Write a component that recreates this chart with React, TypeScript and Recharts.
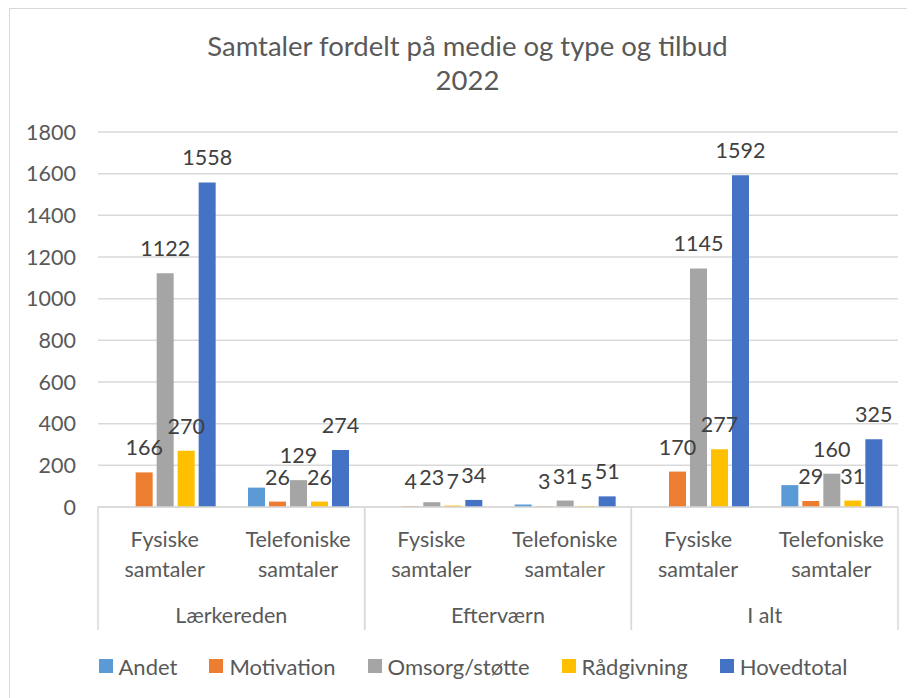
import React from 'react';
import { BarChart, Bar, XAxis, YAxis, CartesianGrid, Legend, LabelList } from 'recharts';

// Categories and groups for the two-level x axis
const categories = [
    'Fysiske samtaler',
    'Telefoniske samtaler',
    'Fysiske samtaler',
    'Telefoniske samtaler',
    'Fysiske samtaler',
    'Telefoniske samtaler',
];
const groups = ['Lærkereden', 'Lærkereden', 'Efterværn', 'Efterværn', 'I alt', 'I alt'];

// Series values
const andet = [null, 93, null, 12, null, 105];
const motivation = [166, 26, 4, 3, 170, 29];
const omsorg = [1122, 129, 23, 31, 1145, 160];
const raadgivning = [270, 26, 7, 5, 277, 31];
const hovedtotal = [1558, 274, 34, 51, 1592, 325];

const yTicks = [0, 200, 400, 600, 800, 1000, 1200, 1400, 1600, 1800];

const series = [
    { key: 'andet', name: 'Andet', color: '#5B9BD5', labels: false },
    { key: 'motivation', name: 'Motivation', color: '#ED7D31', labels: true },
    { key: 'omsorg', name: 'Omsorg/støtte', color: '#A5A5A5', labels: true },
    { key: 'raadgivning', name: 'Rådgivning', color: '#FFC000', labels: true },
    { key: 'hovedtotal', name: 'Hovedtotal', color: '#4472C4', labels: true },
];

const data = categories.map((sub, i) => ({
    sub,
    group: groups[i],
    andet: andet[i],
    motivation: motivation[i],
    omsorg: omsorg[i],
    raadgivning: raadgivning[i],
    hovedtotal: hovedtotal[i],
}));

const FONT = 'Lato, "Open Sans", sans-serif';
const TEXT = '#595959';
const GRID = '#D9D9D9';

const CHART_W = 905;
const CHART_H = 689;
const MARGIN = { top: 123, right: 17, bottom: 17, left: 0 };

const SubTick = (props: any) => {
    const { x, y, payload } = props;
    const words = String(payload.value).split(' ');
    return (
        <g>
            {words.map((w: string, i: number) => (
                <text key={i} x={x} y={y + 32 + i * 30} dy="0.35em" textAnchor="middle"
                    fill={TEXT} fontSize={21.5} fontFamily={FONT}>
                    {w}
                </text>
            ))}
        </g>
    );
};

const GroupTick = (props: any) => {
    const { x, y, payload } = props;
    const half = payload.offset || (CHART_W - 88 - MARGIN.right) / 6;
    return (
        <g>
            <line x1={x - half} x2={x - half} y1={y - 80} y2={y + 43} stroke={GRID} strokeWidth={1.5} />
            <line x1={x + half} x2={x + half} y1={y - 80} y2={y + 43} stroke={GRID} strokeWidth={1.5} />
            <text x={x} y={y + 28} dy="0.35em" textAnchor="middle" fill={TEXT} fontSize={21.5} fontFamily={FONT}>
                {payload.value}
            </text>
        </g>
    );
};

const LegendContent = () => (
    <div style={{ display: 'flex', justifyContent: 'center', alignItems: 'center', height: 30, gap: 32 }}>
        {series.map((s) => (
            <div key={s.key} style={{ display: 'flex', alignItems: 'center' }}>
                <span style={{ width: 14, height: 14, background: s.color, marginRight: 6, display: 'inline-block' }} />
                <span style={{ fontFamily: FONT, fontSize: 22, color: TEXT }}>{s.name}</span>
            </div>
        ))}
    </div>
);

const App: React.FC = () => {
    return (
        <div style={{ position: 'relative', marginLeft: 1, width: CHART_W, height: CHART_H,
            borderTop: `1px solid ${GRID}`, borderLeft: `1px solid ${GRID}` }}>
            <div style={{ position: 'absolute', top: 20, left: 0, width: CHART_W, paddingLeft: 10,
                boxSizing: 'border-box', textAlign: 'center', fontFamily: FONT, fontSize: 27.5,
                lineHeight: '34px', color: TEXT, zIndex: 1 }}>
                Samtaler fordelt på medie og type og tilbud
                <br />
                2022
            </div>
            <BarChart width={CHART_W} height={CHART_H} data={data} margin={MARGIN}
                barCategoryGap="12.5%" barGap={4}>
                <CartesianGrid xAxisId="a" horizontal vertical={false} stroke={GRID} strokeWidth={1.5} />
                <XAxis xAxisId="a" dataKey="sub" height={80} tick={<SubTick />} tickLine={false}
                    tickSize={0} tickMargin={0} interval={0} axisLine={{ stroke: GRID, strokeWidth: 1.5 }} />
                <XAxis xAxisId="b" dataKey="group" height={64} allowDuplicatedCategory={false}
                    tick={<GroupTick />} tickLine={false} tickSize={0} tickMargin={0} interval={0} axisLine={false} />
                <YAxis domain={[0, 1800]} ticks={yTicks} width={88} axisLine={false} tickLine={false}
                    tickSize={0} tickMargin={22} interval={0}
                    tick={{ fill: TEXT, fontSize: 21.5, fontFamily: FONT }} />
                <Legend verticalAlign="bottom" height={30} content={<LegendContent />}
                    wrapperStyle={{ left: 0, width: CHART_W, paddingLeft: 21, boxSizing: 'border-box' }} />
                {series.map((s) => (
                    <Bar key={s.key} xAxisId="a" dataKey={s.key} name={s.name} fill={s.color}
                        isAnimationActive={false}>
                        {s.labels && (
                            <LabelList dataKey={s.key} position="top" offset={17} fill="#404040"
                                fontSize={21.5} fontFamily={FONT} />
                        )}
                    </Bar>
                ))}
            </BarChart>
        </div>
    );
};

export default App;
